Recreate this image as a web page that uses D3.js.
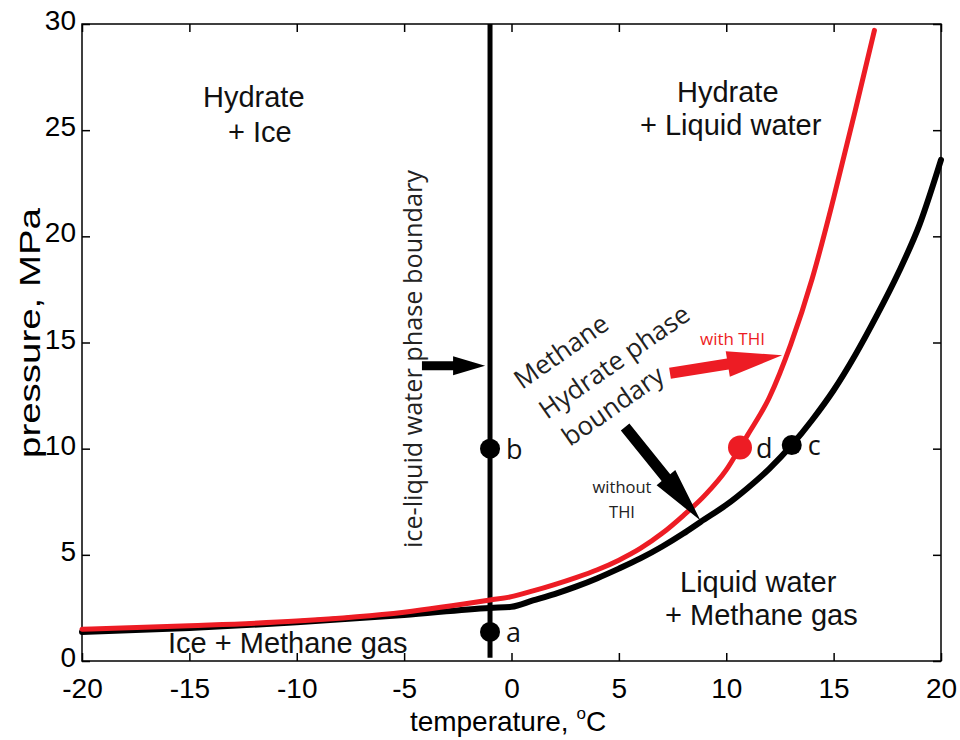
<!DOCTYPE html>
<html>
<head>
<meta charset="utf-8">
<script src="https://cdn.jsdelivr.net/npm/d3@7"></script>
<style>
  body { margin: 0; background: #fff; }
  svg { display: block; }
  .tick text { font-family: "Liberation Sans", Arial, sans-serif; font-size: 28px; fill: #000; }
  .tick line { stroke: #000; stroke-width: 1.5; }
  .region { font-family: "Liberation Sans", Arial, sans-serif; font-size: 29px; fill: #111; }
  .note { font-family: "Open Sans", "Noto Sans", sans-serif; fill: #222; }
</style>
</head>
<body>
<script>
// axis ticks
var tempTicks = [-20, -15, -10, -5, 0, 5, 10, 15, 20];
var pressTicks = [0, 5, 10, 15, 20, 25, 30];

// methane hydrate boundary without THI (black)
var blackT = [-20, -15, -10, -5, -1, 0, 1, 2, 3, 4, 5, 6, 7, 8, 8.8, 10, 11, 12, 13.05, 14, 15, 16, 17, 18, 19, 20];
var blackP = [1.37, 1.55, 1.82, 2.17, 2.5, 2.55, 2.85, 3.15, 3.5, 3.9, 4.35, 4.83, 5.38, 6.0, 6.55, 7.35, 8.15, 9.05, 10.17, 11.35, 12.75, 14.4, 16.25, 18.25, 20.55, 23.6];

// methane hydrate boundary with THI (red)
var redT = [-20, -15, -10, -5, -1, 0, 1, 2, 3, 4, 5, 6, 7, 8, 9, 10, 10.64, 11, 12, 13, 14, 15, 16, 16.9];
var redP = [1.5, 1.66, 1.88, 2.3, 2.87, 3.03, 3.3, 3.6, 3.93, 4.3, 4.75, 5.3, 6.0, 6.85, 7.8, 9.0, 10.05, 10.65, 12.4, 14.9, 18.0, 21.8, 25.9, 29.7];

// ice / liquid water boundary
var iceT = [-1, -1];
var iceP = [0.15, 30];

// marked states
var pointNames = ["a", "b", "c", "d"];
var pointT = [-1, -1, 13.05, 10.64];
var pointP = [1.37, 10, 10.17, 10.05];
var pointColor = ["#000", "#000", "#000", "#ed1c24"];

// arrows (data units)
var arrowT0 = [-4.17, 7.38, 5.29];
var arrowP0 = [13.9, 13.55, 11.02];
var arrowT1 = [-1.23, 12.6, 8.8];
var arrowP1 = [13.9, 14.4, 6.62];
var arrowColor = ["#000", "#ed1c24", "#000"];

var width = 960, height = 740;
var x = d3.scaleLinear().domain([-20, 20]).range([82, 941]);
var y = d3.scaleLinear().domain([0, 30]).range([661, 24]);

var svg = d3.select("body").append("svg")
    .attr("width", width)
    .attr("height", height);
svg.append("rect").attr("width", width).attr("height", height).attr("fill", "#fff");

// axes, MATLAB-like inward ticks
var xAxis = d3.axisBottom(x).tickValues(tempTicks).tickFormat(String)
    .tickSizeInner(-8).tickSizeOuter(0).tickPadding(17);
var yAxis = d3.axisLeft(y).tickValues(pressTicks).tickFormat(String)
    .tickSizeInner(-8).tickSizeOuter(0).tickPadding(6);
svg.append("g").attr("transform", "translate(0," + y(0) + ")").call(xAxis).select(".domain").remove();
var gy = svg.append("g").attr("transform", "translate(" + x(-20) + ",0)").call(yAxis);
gy.select(".domain").remove();
gy.selectAll(".tick text").attr("dy", "0.2em");
svg.append("g").attr("transform", "translate(0," + y(30) + ")")
    .call(d3.axisTop(x).tickValues(tempTicks).tickSizeInner(-8).tickSizeOuter(0).tickFormat(""))
    .select(".domain").remove();
svg.append("g").attr("transform", "translate(" + x(20) + ",0)")
    .call(d3.axisRight(y).tickValues(pressTicks).tickSizeInner(-8).tickSizeOuter(0).tickFormat(""))
    .select(".domain").remove();

svg.append("rect")
    .attr("x", x(-20)).attr("y", y(30))
    .attr("width", x(20) - x(-20)).attr("height", y(0) - y(30))
    .attr("fill", "none").attr("stroke", "#000").attr("stroke-width", 1.5);

// axis titles
var xt = svg.append("text")
    .attr("x", 508).attr("y", 731)
    .attr("text-anchor", "middle")
    .style("font-family", "Liberation Sans, Arial, sans-serif").style("font-size", "28px");
xt.append("tspan").text("temperature, ");
xt.append("tspan").attr("dy", -12).style("font-size", "17px").text("o");
xt.append("tspan").attr("dy", 12).text("C");

svg.append("text")
    .attr("transform", "translate(40,333) rotate(-90)")
    .attr("text-anchor", "middle")
    .attr("textLength", 250).attr("lengthAdjust", "spacingAndGlyphs")
    .style("font-family", "Liberation Sans, Arial, sans-serif").style("font-size", "30px")
    .text("pressure, MPa");

// curves
var line = d3.line()
    .x(function(d){ return x(d[0]); })
    .y(function(d){ return y(d[1]); })
    .curve(d3.curveMonotoneX);

svg.append("path")
    .attr("d", d3.line().x(function(d){ return x(d[0]); }).y(function(d){ return y(d[1]); })(d3.zip(iceT, iceP)))
    .attr("stroke", "#000").attr("stroke-width", 5).attr("fill", "none");

svg.append("path")
    .attr("d", line(d3.zip(blackT, blackP)))
    .attr("stroke", "#000").attr("stroke-width", 6).attr("fill", "none")
    .attr("stroke-linecap", "round");

svg.append("path")
    .attr("d", line(d3.zip(redT, redP)))
    .attr("stroke", "#ed1c24").attr("stroke-width", 5).attr("fill", "none")
    .attr("stroke-linecap", "round");

// points
var pts = svg.append("g").selectAll("g").data(pointNames).enter().append("g");
pts.append("circle")
    .attr("cx", function(d, i){ return x(pointT[i]); })
    .attr("cy", function(d, i){ return y(pointP[i]); })
    .attr("r", function(d, i){ return pointColor[i] === "#000" ? 10 : 12; })
    .attr("fill", function(d, i){ return pointColor[i]; });
pts.append("text")
    .attr("class", "note")
    .attr("x", function(d, i){ return x(pointT[i]) + 16; })
    .attr("y", function(d, i){ return y(pointP[i]) + 10; })
    .style("font-size", "27px").style("fill", "#111")
    .text(function(d){ return d; });

// arrows
function arrowPoints(x0, y0, x1, y1, sw, hl, hw) {
    var dx = x1 - x0, dy = y1 - y0, L = Math.hypot(dx, dy);
    var ux = dx / L, uy = dy / L, px = -uy, py = ux;
    var bx = x1 - ux * hl, by = y1 - uy * hl;
    return [
        [x0 + px * sw / 2, y0 + py * sw / 2],
        [bx + px * sw / 2, by + py * sw / 2],
        [bx + px * hw / 2, by + py * hw / 2],
        [x1, y1],
        [bx - px * hw / 2, by - py * hw / 2],
        [bx - px * sw / 2, by - py * sw / 2],
        [x0 - px * sw / 2, y0 - py * sw / 2]
    ].join(" ");
}
var arrowSize = [[9, 32, 19], [11, 55, 26], [11, 55, 24]];
svg.append("g").selectAll("polygon").data(arrowColor).enter().append("polygon")
    .attr("points", function(d, i){
        return arrowPoints(x(arrowT0[i]), y(arrowP0[i]), x(arrowT1[i]), y(arrowP1[i]),
            arrowSize[i][0], arrowSize[i][1], arrowSize[i][2]);
    })
    .attr("fill", function(d){ return d; });

// region labels
function region(txt, px, py) {
    svg.append("text").attr("class", "region").attr("x", px).attr("y", py).text(txt);
}
region("Hydrate", 203, 107);
region("+ Ice", 228, 142);
region("Hydrate", 677, 102);
region("+ Liquid water", 640, 135);
region("Liquid water", 680, 592);
region("+ Methane gas", 665, 625);
region("Ice + Methane gas", 168, 653);

// rotated annotations
svg.append("text").attr("class", "note")
    .attr("transform", "translate(422,359) rotate(-90)")
    .attr("text-anchor", "middle")
    .attr("textLength", 378).attr("lengthAdjust", "spacingAndGlyphs")
    .style("font-size", "26px")
    .text("ice-liquid water phase boundary");

[["Methane", 522, 390], ["Hydrate phase", 547, 420], ["boundary", 570, 447]].forEach(function(t){
    svg.append("text").attr("class", "note")
        .attr("transform", "translate(" + t[1] + "," + t[2] + ") rotate(-35)")
        .style("font-size", "26px")
        .text(t[0]);
});

svg.append("text").attr("class", "note")
    .attr("x", 700).attr("y", 345)
    .style("font-size", "17px").style("fill", "#ed1c24")
    .text("with THI");
svg.append("text").attr("class", "note")
    .attr("x", 622).attr("y", 493).attr("text-anchor", "middle")
    .style("font-size", "16.5px")
    .text("without");
svg.append("text").attr("class", "note")
    .attr("x", 622).attr("y", 518).attr("text-anchor", "middle")
    .style("font-size", "16.5px")
    .text("THI");
</script>
</body>
</html>
